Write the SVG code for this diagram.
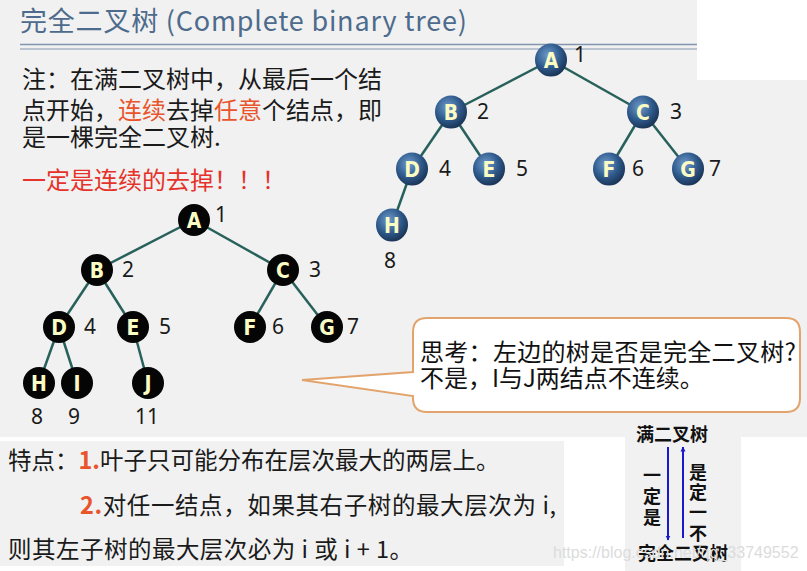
<svg xmlns="http://www.w3.org/2000/svg" width="807" height="571" viewBox="0 0 807 571">
<defs>
<radialGradient id="blueG" cx="0.4" cy="0.35" r="0.65">
<stop offset="0" stop-color="#6f9acb"/>
<stop offset="0.6" stop-color="#2f5a8c"/>
<stop offset="1" stop-color="#1b3659"/>
</radialGradient>
<marker id="ah" viewBox="0 0 10 10" refX="9" refY="5" markerWidth="5" markerHeight="6" orient="auto-start-reverse" markerUnits="userSpaceOnUse">
<path d="M0,0 L10,5 L0,10 Z" fill="#1a1acc"/>
</marker>
<style>
.cjk{font-family:"Noto Sans CJK SC","Noto Sans",sans-serif;}
.note{font-size:24px;fill:#1a1a1a;}
.hl{fill:#e8542c;}
.num{font-family:"Noto Sans","Noto Sans CJK SC",sans-serif;font-size:21px;fill:#1a1a1a;}
.lbl{font-family:"Liberation Sans Narrow","DejaVu Sans Condensed","Liberation Sans",sans-serif;font-weight:bold;font-size:21px;fill:#fbfbc4;text-anchor:middle;}
.bn{fill:url(#blueG);}
.kn{fill:#050505;}
.edge{stroke:#28615c;stroke-width:2.5;fill:none;}
.bold{font-weight:bold;font-size:18px;fill:#111;}
</style>
</defs>

<!-- backgrounds -->
<rect x="0" y="0" width="807" height="437" fill="#f1f1f1"/>
<rect x="697" y="0" width="110" height="80" fill="#ffffff"/>
<rect x="0" y="437" width="807" height="134" fill="#ffffff"/>
<rect x="0" y="441" width="564" height="125" fill="#f1f1f1"/>
<rect x="625" y="423" width="116" height="148" fill="#f1f1f1"/>

<!-- title -->
<text x="20" y="31" class="cjk" font-size="27" letter-spacing="0.8" fill="#4d6b8c">完全二叉树 (Complete binary tree)</text>
<line x1="20" y1="44.5" x2="697" y2="44.5" stroke="#8396b0" stroke-width="1.5"/>
<line x1="20" y1="49" x2="697" y2="49" stroke="#8396b0" stroke-width="1.2"/>

<!-- note text -->
<text class="cjk note" x="22" y="88">注：在满二叉树中，从最后一个结</text>
<text class="cjk note" x="22" y="119">点开始，<tspan class="hl">连续</tspan>去掉<tspan class="hl">任意</tspan>个结点，即</text>
<text class="cjk note" x="22" y="146">是一棵完全二叉树.</text>
<text class="cjk" x="22" y="189" font-size="24" fill="#e5332b">一定是连续的去掉！！！</text>

<!-- connectors -->
<g id="connectors">
<line class="edge" x1="551" y1="60" x2="451" y2="112"/>
<line class="edge" x1="551" y1="60" x2="643" y2="112"/>
<line class="edge" x1="451" y1="112" x2="412" y2="169"/>
<line class="edge" x1="451" y1="112" x2="489" y2="169"/>
<line class="edge" x1="643" y1="112" x2="609" y2="169"/>
<line class="edge" x1="643" y1="112" x2="688" y2="169"/>
<line class="edge" x1="412" y1="169" x2="392" y2="225"/>

<line class="edge" x1="194" y1="220" x2="97" y2="270"/>
<line class="edge" x1="194" y1="220" x2="283" y2="270"/>
<line class="edge" x1="97" y1="270" x2="59" y2="327"/>
<line class="edge" x1="97" y1="270" x2="133" y2="327"/>
<line class="edge" x1="283" y1="270" x2="250" y2="327"/>
<line class="edge" x1="283" y1="270" x2="327" y2="327"/>
<line class="edge" x1="59" y1="327" x2="39" y2="383"/>
<line class="edge" x1="59" y1="327" x2="77" y2="383"/>
<line class="edge" x1="133" y1="327" x2="148" y2="383"/>
</g>

<!-- right (blue) tree -->
<g id="rA"><ellipse class="bn" cx="551" cy="60" rx="16" ry="16.5"/><text class="lbl" x="551" y="68">A</text><text class="num" x="574" y="62">1</text></g>
<g id="rB"><ellipse class="bn" cx="451" cy="112" rx="16" ry="16.5"/><text class="lbl" x="451" y="120">B</text><text class="num" x="477" y="119">2</text></g>
<g id="rC"><ellipse class="bn" cx="643" cy="112" rx="16" ry="16.5"/><text class="lbl" x="643" y="120">C</text><text class="num" x="670" y="119">3</text></g>
<g id="rD"><ellipse class="bn" cx="412" cy="169" rx="16" ry="16.5"/><text class="lbl" x="412" y="177">D</text><text class="num" x="439" y="176">4</text></g>
<g id="rE"><ellipse class="bn" cx="489" cy="169" rx="16" ry="16.5"/><text class="lbl" x="489" y="177">E</text><text class="num" x="516" y="176">5</text></g>
<g id="rF"><ellipse class="bn" cx="609" cy="169" rx="16" ry="16.5"/><text class="lbl" x="609" y="177">F</text><text class="num" x="632" y="176">6</text></g>
<g id="rG"><ellipse class="bn" cx="688" cy="169" rx="16" ry="16.5"/><text class="lbl" x="688" y="177">G</text><text class="num" x="709" y="176">7</text></g>
<g id="rH"><ellipse class="bn" cx="392" cy="225" rx="16" ry="16.5"/><text class="lbl" x="392" y="233">H</text><text class="num" x="384" y="268">8</text></g>

<!-- left (black) tree -->
<g id="lA"><circle class="kn" cx="194" cy="220" r="16"/><text class="lbl" x="194" y="228">A</text><text class="num" x="215" y="222">1</text></g>
<g id="lB"><circle class="kn" cx="97" cy="270" r="16"/><text class="lbl" x="97" y="278">B</text><text class="num" x="122" y="277">2</text></g>
<g id="lC"><circle class="kn" cx="283" cy="270" r="16"/><text class="lbl" x="283" y="278">C</text><text class="num" x="309" y="277">3</text></g>
<g id="lD"><circle class="kn" cx="59" cy="327" r="16"/><text class="lbl" x="59" y="335">D</text><text class="num" x="84" y="334">4</text></g>
<g id="lE"><circle class="kn" cx="133" cy="327" r="16"/><text class="lbl" x="133" y="335">E</text><text class="num" x="159" y="334">5</text></g>
<g id="lF"><circle class="kn" cx="250" cy="327" r="16"/><text class="lbl" x="250" y="335">F</text><text class="num" x="272" y="334">6</text></g>
<g id="lG"><circle class="kn" cx="327" cy="327" r="16"/><text class="lbl" x="327" y="335">G</text><text class="num" x="347" y="334">7</text></g>
<g id="lH"><circle class="kn" cx="39" cy="383" r="16"/><text class="lbl" x="39" y="391">H</text><text class="num" x="31" y="424">8</text></g>
<g id="lI"><circle class="kn" cx="77" cy="383" r="16"/><text class="lbl" x="77" y="391">I</text><text class="num" x="68" y="424">9</text></g>
<g id="lJ"><circle class="kn" cx="148" cy="383" r="16"/><text class="lbl" x="148" y="391">J</text><text class="num" x="135" y="424">11</text></g>

<!-- callout -->
<g id="callout">
<path d="M427,318 H786 Q800,318 800,332 V398 Q800,412 786,412 H427 Q413,412 413,398 V396 L302,380 L413,372 V332 Q413,318 427,318 Z" fill="#ffffff" stroke="#e2a46c" stroke-width="2"/>
<text class="cjk" x="420" y="361" font-size="24" letter-spacing="0.3" fill="#111">思考：左边的树是否是完全二叉树?</text>
<text class="cjk" x="420" y="387" font-size="24" fill="#111">不是，I与J两结点不连续。</text>
</g>

<!-- features text -->
<text class="cjk" x="8" y="469" font-size="23.5" fill="#1a1a1a">特点：<tspan class="hl" font-weight="bold">1.</tspan>叶子只可能分布在层次最大的两层上。</text>
<text class="cjk" x="80" y="514" font-size="23.5" fill="#1a1a1a" textLength="476" lengthAdjust="spacing"><tspan class="hl" font-weight="bold">2.</tspan>对任一结点，如果其右子树的最大层次为 i,</text>
<text class="cjk" x="8" y="558" font-size="23.5" fill="#1a1a1a" textLength="405" lengthAdjust="spacing">则其左子树的最大层次必为 i 或 i + 1。</text>

<!-- full / complete relation -->
<g id="full"><text class="cjk bold" x="672" y="441" text-anchor="middle">满二叉树</text></g>
<g id="complete"><text class="cjk bold" x="683" y="560" text-anchor="middle">完全二叉树</text></g>
<g id="arrows">
<line x1="668" y1="447" x2="668" y2="540" stroke="#1a1acc" stroke-width="2" marker-end="url(#ah)"/>
<line x1="683" y1="538" x2="683" y2="447" stroke="#1a1acc" stroke-width="2" marker-end="url(#ah)"/>
</g>
<g class="cjk bold" text-anchor="middle">
<text x="652" y="482">一</text>
<text x="652" y="503">定</text>
<text x="652" y="524">是</text>
<text x="698" y="479">是</text>
<text x="698" y="499">定</text>
<text x="698" y="519">一</text>
<text x="698" y="540">不</text>
</g>

<text x="553" y="558" font-family="Liberation Sans,sans-serif" font-size="16" fill="#dcdcdc">https://blog.csdn.net/qq_33749552</text>
</svg>
